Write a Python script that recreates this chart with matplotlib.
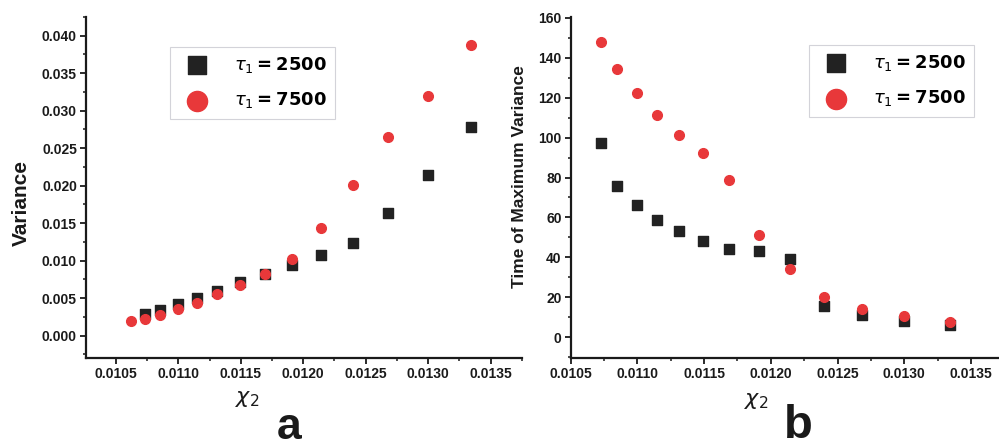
import matplotlib
matplotlib.use("Agg")
import matplotlib.pyplot as plt
from matplotlib.ticker import MultipleLocator, FormatStrFormatter

# ---- data ----
chi_a_red = [0.01062, 0.01073, 0.01085, 0.01100, 0.01115, 0.01131, 0.01149,
             0.01169, 0.01191, 0.01214, 0.01240, 0.01268, 0.01300, 0.01334]
var_7500 = [0.0019, 0.0022, 0.0028, 0.0036, 0.0044, 0.0055, 0.0067,
            0.0082, 0.0102, 0.0143, 0.0201, 0.0265, 0.0319, 0.0387]
chi_a_blk = [0.01073, 0.01085, 0.01100, 0.01115, 0.01131, 0.01149,
             0.01169, 0.01191, 0.01214, 0.01240, 0.01268, 0.01300, 0.01334]
var_2500 = [0.0029, 0.0034, 0.0042, 0.0050, 0.0060, 0.0071,
            0.0082, 0.0094, 0.0107, 0.0123, 0.0163, 0.0214, 0.0278]

chi_b = [0.01073, 0.01085, 0.01100, 0.01115, 0.01131, 0.01149,
         0.01169, 0.01191, 0.01214, 0.01240, 0.01268, 0.01300, 0.01334]
tmax_7500 = [147.9, 134.2, 122.3, 111.5, 101.5, 92.5, 78.9, 51.1, 34.2, 20.1, 14.3, 10.8, 7.7]
tmax_2500 = [97.5, 75.7, 66.0, 58.8, 53.1, 48.2, 44.4, 43.1, 39.0, 15.6, 11.3, 8.0, 5.9]

labels = [r"$\tau_1$" + "\u2009=\u20092500", r"$\tau_1$" + "\u2009=\u20097500"]
BLACK = "#222222"
RED = "#e8383a"

W, H = 999, 447
fig = plt.figure(figsize=(W / 100, H / 100), dpi=100)

def px(x0, x1, y0, y1):
    return [x0 / W, (H - y1) / H, (x1 - x0) / W, (y1 - y0) / H]

axa = fig.add_axes(px(86, 522, 17, 358))
axb = fig.add_axes(px(570.7, 999, 17, 358))

tickfont = dict(family="Liberation Sans", weight="bold", size=10)

for ax in (axa, axb):
    for s in ("top", "right"):
        ax.spines[s].set_visible(False)
    for s in ("left", "bottom"):
        ax.spines[s].set_linewidth(1.6)
        ax.spines[s].set_color("#1a1a1a")
    ax.tick_params(which="major", direction="out", length=4, width=1.3, pad=2.5, colors="#1a1a1a")
    ax.tick_params(which="minor", direction="out", length=2.5, width=1.1, colors="#1a1a1a")
    ax.xaxis.set_major_locator(MultipleLocator(0.0005))
    ax.xaxis.set_minor_locator(MultipleLocator(0.00025))
    ax.xaxis.set_major_formatter(FormatStrFormatter("%.4f"))

# panel a
axa.scatter(chi_a_blk, var_2500, marker="s", s=6.5**2, color=BLACK, zorder=3, label=labels[0])
axa.scatter(chi_a_red, var_7500, marker="o", s=7**2, color=RED, zorder=4, label=labels[1])
axa.set_xlim(0.01026, 0.013752)
axa.set_ylim(-0.003, 0.0425)
axa.yaxis.set_major_locator(MultipleLocator(0.005))
axa.yaxis.set_minor_locator(MultipleLocator(0.0025))
axa.yaxis.set_major_formatter(FormatStrFormatter("%.3f"))

# panel b
axb.scatter(chi_b, tmax_2500, marker="s", s=6.5**2, color=BLACK, zorder=3, label=labels[0])
axb.scatter(chi_b, tmax_7500, marker="o", s=7**2, color=RED, zorder=4, label=labels[1])
axb.set_xlim(0.0105, 0.01371)
axb.set_ylim(-10.5, 160.5)
axb.yaxis.set_major_locator(MultipleLocator(20))
axb.yaxis.set_minor_locator(MultipleLocator(10))
axb.yaxis.set_major_formatter(FormatStrFormatter("%d"))

for ax in (axa, axb):
    for t in ax.get_xticklabels() + ax.get_yticklabels():
        t.set_fontproperties(matplotlib.font_manager.FontProperties(**tickfont))

legprops = dict(family="DejaVu Sans", weight="bold", size=13)

def make_legend(ax, anchor):
    leg = ax.legend(loc="upper left", bbox_to_anchor=anchor, prop=legprops,
                    frameon=True, fancybox=False, borderpad=0.45, labelspacing=0.85,
                    handlelength=2.1, handletextpad=1.0, borderaxespad=0)
    fr = leg.get_frame()
    fr.set_edgecolor("#c8c8d0")
    fr.set_linewidth(0.8)
    hs = leg.legend_handles
    hs[0].set_sizes([13**2])
    hs[1].set_sizes([14.5**2])
    return leg

make_legend(axa, (0.193, 0.912))
make_legend(axb, (0.556, 0.918))

# axis labels
fig.text(21 / W, 1 - 203 / H, "Variance", rotation=90, ha="center", va="center",
         family="Liberation Sans", weight="bold", fontsize=15, color="#1a1a1a")
fig.text(520 / W, 1 - 177 / H, "Time of Maximum Variance", rotation=90, ha="center", va="center",
         family="Liberation Sans", weight="bold", fontsize=12.5, color="#1a1a1a")
fig.text(247 / W, 1 - 399 / H, r"$\chi_2$", ha="center", va="center", fontsize=16, color="#1a1a1a")
fig.text(756 / W, 1 - 401 / H, r"$\chi_2$", ha="center", va="center", fontsize=16, color="#1a1a1a")

# panel letters
fig.text(289 / W, 1 - 439 / H, "a", ha="center", va="baseline",
         family="Liberation Sans", weight="bold", fontsize=32, color="#1a1a1a")
fig.text(798 / W, 1 - 438 / H, "b", ha="center", va="baseline",
         family="Liberation Sans", weight="bold", fontsize=34, color="#1a1a1a")

fig.savefig("out.png", dpi=100)
